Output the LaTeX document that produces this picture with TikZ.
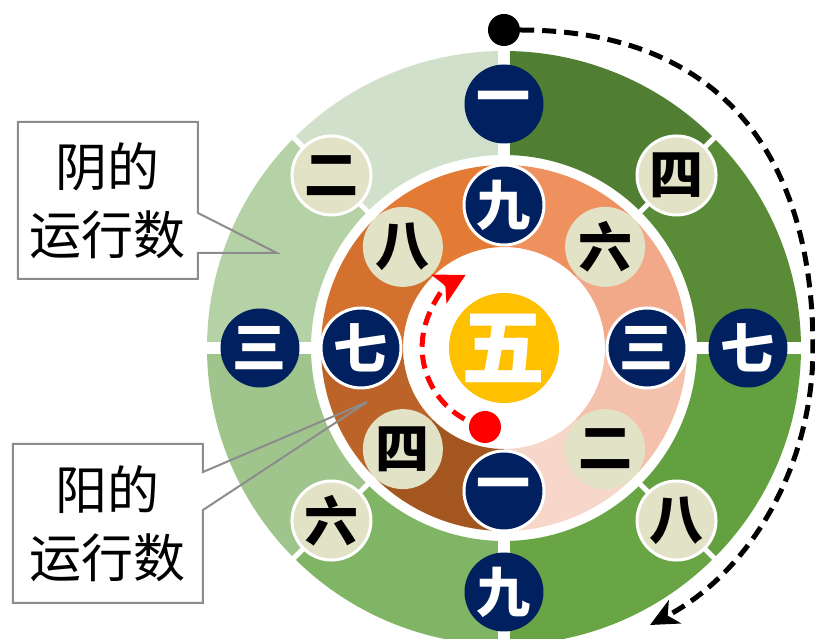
\documentclass[tikz,border=0pt]{standalone}
\usepackage{fontspec}
\newfontfamily\hei{Noto Sans CJK SC}
\usetikzlibrary{arrows.meta, calc}

\definecolor{navy}{HTML}{002060}
\definecolor{beige}{HTML}{E2E2C6}
\definecolor{gold}{HTML}{FFC000}
\definecolor{calloutgray}{HTML}{8C8C8C}
% outer ring greens, clockwise from the top
\definecolor{greenA}{HTML}{507E32}
\definecolor{greenB}{HTML}{5A8C38}
\definecolor{greenC}{HTML}{63A040}
\definecolor{greenD}{HTML}{6AA545}
\definecolor{greenE}{HTML}{80B565}
\definecolor{greenF}{HTML}{9FC58C}
\definecolor{greenG}{HTML}{B5D2A7}
\definecolor{greenH}{HTML}{D0E0CB}
% inner ring oranges, clockwise from the top
\definecolor{orangeA}{HTML}{EE915F}
\definecolor{orangeB}{HTML}{F1A98A}
\definecolor{orangeC}{HTML}{F4C1AC}
\definecolor{orangeD}{HTML}{F7D7CA}
\definecolor{orangeE}{HTML}{A3561F}
\definecolor{orangeF}{HTML}{BC6329}
\definecolor{orangeG}{HTML}{D4712E}
\definecolor{orangeH}{HTML}{E37B35}

% #1 colour, #2 #3 angles, #4 inner radius, #5 outer radius
\newcommand{\ringpart}[5]{%
  \fill[#1] (#2:#4) arc[start angle=#2, end angle=#3, radius=#4] -- (#3:#5) arc[start angle=#3, end angle=#2, radius=#5] -- cycle;}

\begin{document}
\begin{tikzpicture}[
    x=1pt, y=1pt,
    yang/.style={circle, fill=navy, text=white, minimum size=79pt, inner sep=0pt, font=\hei\bfseries\fontsize{54}{54}\selectfont},
    yangin/.style={yang, draw=white, line width=3pt, minimum size=80pt},
    yin/.style={circle, fill=beige, text=black, draw=white, line width=3pt, minimum size=79pt, inner sep=0pt, font=\hei\bfseries\fontsize{54}{54}\selectfont},
    yinin/.style={yin, draw=none, minimum size=80pt},
    note/.style={align=center, inner sep=0pt, outer sep=0pt, font=\hei\fontsize{52}{68}\selectfont},
    callout/.style={draw=calloutgray, line width=2pt},
    gap/.style={white, line width=12pt},
    seam/.style={white, line width=5pt},
    orbit/.style={line width=5pt, dash pattern=on 14pt off 8pt}
]
\useasboundingbox (-504,-291) rectangle (311,348);

% Outer ring
\ringpart{greenA}{90}{45}{193}{297}
\ringpart{greenB}{45}{0}{193}{297}
\ringpart{greenC}{0}{-45}{193}{297}
\ringpart{greenD}{-45}{-90}{193}{297}
\ringpart{greenE}{-90}{-135}{193}{297}
\ringpart{greenF}{-135}{-180}{193}{297}
\ringpart{greenG}{180}{135}{193}{297}
\ringpart{greenH}{135}{90}{193}{297}

% Inner ring
\ringpart{orangeA}{90}{45}{101}{183}
\ringpart{orangeB}{45}{0}{101}{183}
\ringpart{orangeC}{0}{-45}{101}{183}
\ringpart{orangeD}{-45}{-90}{101}{183}
\ringpart{orangeE}{-90}{-135}{101}{183}
\ringpart{orangeF}{-135}{-180}{101}{183}
\ringpart{orangeG}{180}{135}{101}{183}
\ringpart{orangeH}{135}{90}{101}{183}

% White cuts through the outer ring
\draw[gap] (90:180) -- (90:300);
\draw[gap] (0:180) -- (0:300);
\draw[gap] (-90:180) -- (-90:300);
\draw[gap] (180:180) -- (180:300);
\draw[seam] (45:180) -- (45:300);
\draw[seam] (-45:180) -- (-45:300);
\draw[seam] (-135:180) -- (-135:300);
\draw[seam] (135:180) -- (135:300);

% Outer numbers
\node[yang] (out1) at (90:244) {一};
\node[yin] (out4) at (45:244) {四};
\node[yang] (out7) at (0:244) {七};
\node[yin] (out8) at (-45:244) {八};
\node[yang] (out9) at (-90:244) {九};
\node[yin] (out6) at (-135:244) {六};
\node[yang] (out3) at (180:244) {三};
\node[yin] (out2) at (135:244) {二};

% Inner numbers
\node[yangin] (in9) at (90:143) {九};
\node[yinin] (in6) at (45:143) {六};
\node[yangin] (in3) at (0:143) {三};
\node[yinin] (in2) at (-45:143) {二};
\node[yangin] (in1) at (-90:143) {一};
\node[yinin] (in4) at (-135:143) {四};
\node[yangin] (in7) at (180:143) {七};
\node[yinin] (in8) at (135:143) {八};

% Centre
\node[circle, fill=gold, text=white, minimum size=110pt, inner sep=0pt, font=\hei\bfseries\fontsize{84}{84}\selectfont] (five) at (0,0) {五};

% Paths
\node[circle, fill=black, minimum size=32pt, inner sep=0pt] (topdot) at (0,318) {};
\coordinate (blackend) at (146,-277);
\draw[orbit, -{Stealth[length=28pt, width=26pt, inset=8pt]}] (topdot) .. controls (205,318) and (309,205) .. (309,0) .. controls (309,-116) and (248,-223) .. (blackend);

\node[circle, fill=red, minimum size=32pt, inner sep=0pt] (reddot) at (-19,-79) {};
\draw[orbit, red, -{Stealth[length=30pt, width=32pt, inset=7pt]}] (reddot) arc[start angle=256.5, end angle=118, radius=82];

% Callouts
\node[note, minimum width=180pt, minimum height=157pt] (yinnote) at (-396,147.5) {阴的\\运行数};
\coordinate (yintip) at (-227,95);
\draw[callout] ([yshift=-91pt]yinnote.north east) -- (yinnote.north east) -- (yinnote.north west) -- (yinnote.south west) -- (yinnote.south east) -- ([yshift=26pt]yinnote.south east) -- (yintip) -- cycle;

\node[note, minimum width=190pt, minimum height=159pt] (yangnote) at (-396,-175.5) {阳的\\运行数};
\coordinate (yangtip) at (-137,-54);
\draw[callout] ([yshift=-28pt]yangnote.north east) -- (yangnote.north east) -- (yangnote.north west) -- (yangnote.south west) -- (yangnote.south east) -- ([yshift=93pt]yangnote.south east) -- (yangtip) -- cycle;

\end{tikzpicture}
\end{document}
